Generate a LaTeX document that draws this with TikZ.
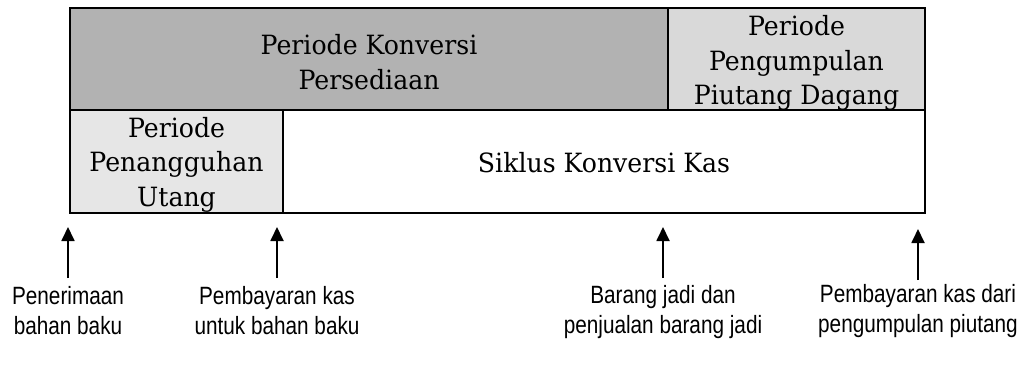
\documentclass[tikz,border=0pt]{standalone}
\usepackage{fontspec}
\setmainfont{DejaVu Serif}[FakeStretch=0.95]
\newfontfamily\labelfont{Liberation Sans}[FakeStretch=0.83]
\usetikzlibrary{arrows.meta}
\definecolor{darkfill}{HTML}{B2B2B2}
\definecolor{midfill}{HTML}{D9D9D9}
\definecolor{lightfill}{HTML}{E6E6E6}
\begin{document}
\begin{tikzpicture}[x=1pt,y=-1pt,
  cell/.style={draw=black,line width=2.4pt,inner sep=0pt},
  celltext/.style={inner sep=0pt,align=center,font=\fontsize{26.5}{34.5}\selectfont},
  lbl/.style={align=center,inner sep=0pt,font=\labelfont\fontsize{25}{30}\selectfont},
  arr/.style={line width=1.8pt,-{Triangle[width=13pt,length=14pt]}}]
\useasboundingbox (0,0) rectangle (1025,366);
\node[cell,fill=darkfill,minimum width=598pt,minimum height=102pt] (kp) at (369,59) {};
\node[cell,fill=midfill,minimum width=257pt,minimum height=102pt] (pp) at (796.5,59) {};
\node[cell,fill=lightfill,minimum width=213pt,minimum height=103pt] (pu) at (176.5,161.5) {};
\node[cell,fill=white,minimum width=642pt,minimum height=103pt] (sk) at (604,161.5) {};
\node[celltext] (kpt) at ([yshift=-3pt]kp.center) {Periode Konversi\\Persediaan};
\node[celltext] (ppt) at ([yshift=-4pt]pp.center) {Periode\\Pengumpulan\\Piutang Dagang};
\node[celltext] (put) at ([yshift=-3pt]pu.center) {Periode\\Penangguhan\\Utang};
\node[celltext] (skt) at ([yshift=-1pt]sk.center) {Siklus Konversi Kas};
\node[lbl] (l1) at (68,311) {Penerimaan\\bahan baku};
\node[lbl] (l2) at (277,311) {Pembayaran kas\\untuk bahan baku};
\node[lbl] (l3) at (663,312) {Barang jadi dan\\penjualan barang jadi};
\node[lbl] (l4) at (918,311) {Pembayaran kas dari\\pengumpulan piutang};
\coordinate (b1) at (68,278); \coordinate (t1) at (68,227);
\coordinate (b2) at (277,278); \coordinate (t2) at (277,227);
\coordinate (b3) at (663,278); \coordinate (t3) at (663,227);
\coordinate (b4) at (918,280); \coordinate (t4) at (918,229);
\draw[arr] (b1) -- (t1);
\draw[arr] (b2) -- (t2);
\draw[arr] (b3) -- (t3);
\draw[arr] (b4) -- (t4);
\end{tikzpicture}
\end{document}
